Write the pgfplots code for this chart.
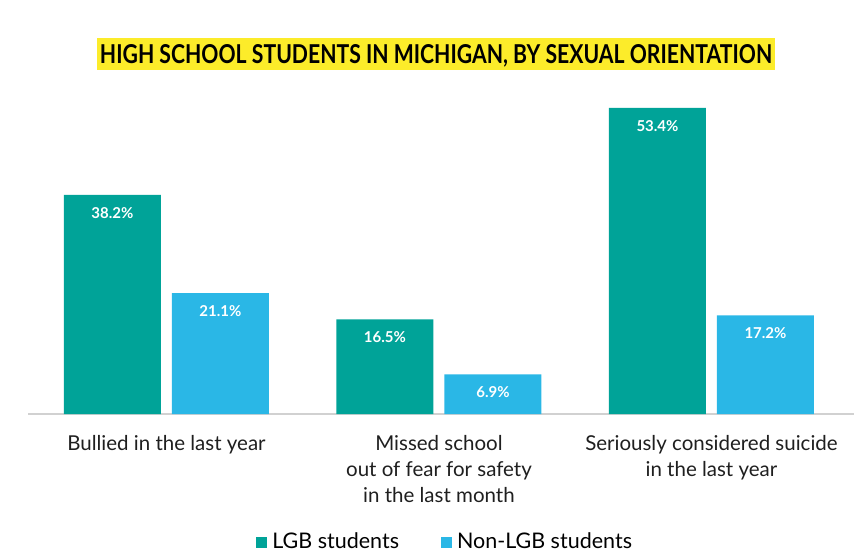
\documentclass[border=0pt]{standalone}
\usepackage{fontspec}
\setmainfont{Lato}
\usepackage{pgfplots}
\pgfplotsset{compat=1.18}
\definecolor{lgb}{HTML}{00A398}
\definecolor{nonlgb}{HTML}{2AB7E6}
\definecolor{ttl}{HTML}{FCEC2A}
\begin{document}
\begin{tikzpicture}[x=1pt,y=1pt]
\path[use as bounding box] (0,0) rectangle (854,-555);
\fill[ttl] (97,-38) rectangle (775,-70);
\node[anchor=base,inner sep=0pt] at (436,-63) {\resizebox{672pt}{19pt}{\bfseries HIGH SCHOOL STUDENTS IN MICHIGAN, BY SEXUAL ORIENTATION}};
\begin{axis}[
  at={(28pt,-414pt)}, anchor=south west,
  scale only axis, width=826pt, height=324pt,
  xmin=-0.508, xmax=2.523, ymin=0, ymax=56.5,
  axis y line=none, axis x line*=bottom,
  x axis line style={draw=black!18, line width=1.5pt},
  xtick={0,1,2},
  xticklabels={Bullied in the last year, {Missed school\\out of fear for safety\\in the last month}, {Seriously considered suicide\\in the last year}},
  xticklabel style={align=center, font=\fontsize{20.5}{26}\selectfont, text=black!88, yshift=-18pt},
  major tick length=0pt,
  /pgf/number format/assume math mode=true,
  legend style={at={(0.505,-0.392)}, anchor=center, draw=none, legend columns=2,
    font=\fontsize{21.5}{22}\selectfont,
    /tikz/every even column/.append style={column sep=40pt}},
  legend image code/.code={\fill[#1] (0pt,-7pt) rectangle (11pt,4pt); \path (14pt,0pt);},
  nodes near coords={\pgfmathprintnumber[fixed,precision=1,fixed zerofill]{\pgfplotspointmeta}\%},
  every node near coord/.append style={anchor=north, text=white, font=\bfseries\fontsize{15}{15}\selectfont, yshift=-9pt},
]
\addplot[ybar, bar width=97pt, bar shift=-54pt, fill=lgb, draw=none,
  every node near coord/.append style={xshift=-54pt}]
  coordinates {(0,38.2) (1,16.5) (2,53.4)};
\addlegendentry{LGB students}
\addplot[ybar, bar width=97pt, bar shift=54pt, fill=nonlgb, draw=none,
  every node near coord/.append style={xshift=54pt}]
  coordinates {(0,21.1) (1,6.9) (2,17.2)};
\addlegendentry{Non-LGB students}
\end{axis}
\end{tikzpicture}
\end{document}
